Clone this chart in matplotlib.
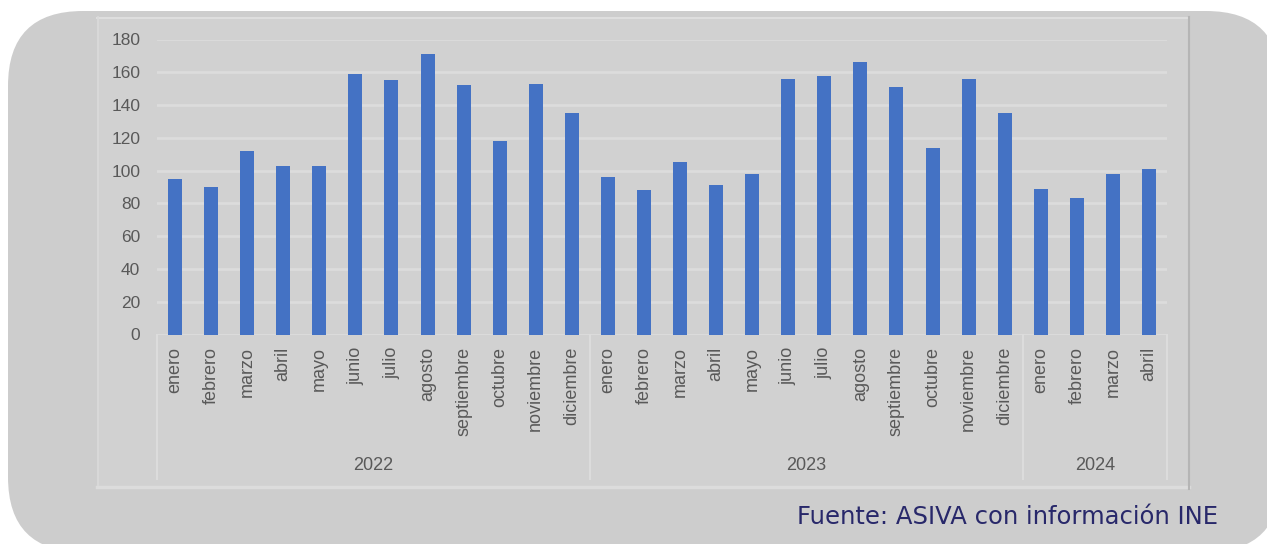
import matplotlib.pyplot as plt
from matplotlib.patches import FancyBboxPatch, Rectangle
from matplotlib.lines import Line2D
from matplotlib.transforms import Affine2D, blended_transform_factory

W, H = 1267, 544

months = ["enero", "febrero", "marzo", "abril", "mayo", "junio", "julio",
          "agosto", "septiembre", "octubre", "noviembre", "diciembre"]
years = ["2022", "2023", "2024"]
months_per_year = [12, 12, 4]

values_2022 = [95, 90, 112, 103, 103, 159, 155, 171, 152, 118, 153, 135]
values_2023 = [96, 88, 105, 91, 98, 156, 158, 166, 151, 114, 156, 135]
values_2024 = [89, 83, 98, 101]

labels = []
for n in months_per_year:
    labels += months[:n]
values = values_2022 + values_2023 + values_2024
x = list(range(len(values)))

text_gray = "#595959"
bar_blue = "#4472C4"

fig = plt.figure(figsize=(W / 100, H / 100), dpi=100)
fig.patch.set_facecolor("white")

# pixel coords (origin top-left) -> figure
px = Affine2D().scale(1, -1).translate(0, H).scale(1 / W, 1 / H) + fig.transFigure

# rounded grey card behind the chart
card = FancyBboxPatch((8, 11), 1273, 541, boxstyle="round,pad=0,rounding_size=75",
                      transform=px, facecolor="#cdcdcd", edgecolor="none", zorder=-3)
fig.patches.append(card)

# chart panel with a light top/left edge and darker shadow on the right
fig.patches.append(Rectangle((97, 17), 1092, 471, transform=px,
                             facecolor="#d1d1d1", edgecolor="none", zorder=-2))
fig.lines.append(Line2D([97, 1189], [17.5, 17.5], transform=px, color="#dedede", lw=1.5, zorder=-1))
fig.lines.append(Line2D([97.5, 97.5], [17, 488], transform=px, color="#dadada", lw=1.2, zorder=-1))
fig.lines.append(Line2D([97, 1189], [487, 487], transform=px, color="#dcdcdc", lw=2.5, zorder=-1))
fig.lines.append(Line2D([1189, 1189], [17, 489], transform=px, color="#b5b5b5", lw=1.5, zorder=-1))

ax = fig.add_axes([157 / W, (H - 334.5) / H, 1010 / W, 295 / H])
ax.set_zorder(2)
ax.set_facecolor("none")
ax.bar(x, values, width=0.39, color=bar_blue, zorder=3)

ax.set_xlim(-0.5, len(values) - 0.5)
ax.set_ylim(0, 180)
ax.set_yticks(range(0, 181, 20))
ax.grid(axis="y", color="#dcdcdc", linewidth=2, zorder=0)
for s in ax.spines.values():
    s.set_visible(False)
ax.axhline(0, color="#dcdcdc", linewidth=2, zorder=1)

ax.set_xticks(x)
ax.set_xticklabels(labels, rotation=90, family="Liberation Sans", fontsize=13,
                   color=text_gray)
ax.tick_params(axis="x", length=0, pad=9)
ax.tick_params(axis="y", length=0, pad=12, labelsize=12.5, labelcolor=text_gray)
for t in ax.get_yticklabels():
    t.set_family("Liberation Sans")

# year level of the category axis
trans = blended_transform_factory(ax.transData, ax.transAxes)
start = 0
bounds = [-0.5]
for yr, n in zip(years, months_per_year):
    center = start + (n - 1) / 2
    ax.text(center, -0.445, yr, transform=trans, ha="center", va="center",
            family="Liberation Sans", fontsize=13, color=text_gray)
    start += n
    bounds.append(start - 0.5)
for b in bounds:
    ax.add_line(Line2D([b, b], [0, -0.49], transform=trans, color="#dcdcdc",
                       lw=1.5, clip_on=False))

fig.text(1218 / W, (H - 517) / H, "Fuente: ASIVA con información INE",
         ha="right", va="center", family="DejaVu Sans", fontsize=17.5, color="#28286a")

plt.savefig("out.png", dpi=100)
